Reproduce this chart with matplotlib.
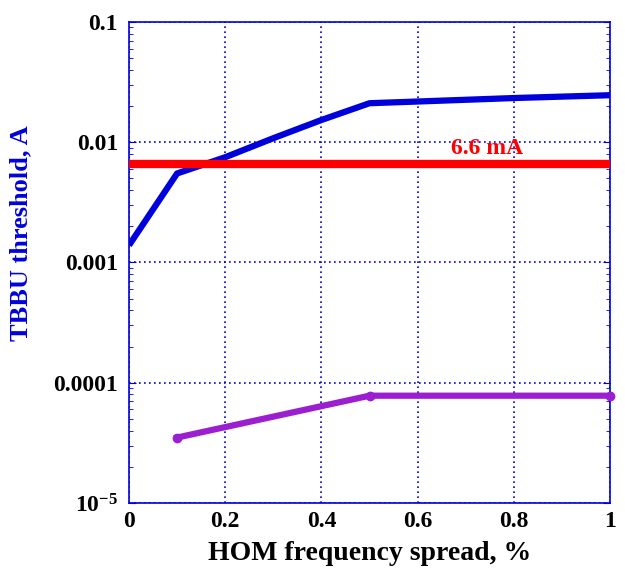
import matplotlib
matplotlib.use("Agg")
from matplotlib import pyplot as plt
from matplotlib.ticker import FixedLocator, LogLocator, NullFormatter

plt.rcParams['font.family'] = ['Liberation Serif', 'DejaVu Serif']
plt.rcParams['font.weight'] = 'bold'
plt.rcParams['mathtext.fontset'] = 'custom'
plt.rcParams['mathtext.rm'] = 'Liberation Serif:bold'
plt.rcParams['mathtext.it'] = 'Liberation Serif:bold'
plt.rcParams['mathtext.bf'] = 'Liberation Serif:bold'

# data
spread_blue = [0.0, 0.1, 0.2, 0.3, 0.4, 0.5, 0.6, 0.8, 1.0]
tbbu_blue = [0.00139, 0.0055, 0.0075, 0.0108, 0.0153, 0.0211, 0.0218, 0.0233, 0.0246]
spread_purple = [0.1, 0.5, 1.0]
tbbu_purple = [3.5e-5, 7.8e-5, 7.8e-5]
design_current = 0.0066
design_label = "6.6 mA"

yticks = [1e-5, 1e-4, 1e-3, 1e-2, 1e-1]
ytick_labels = [r"$10^{-5}$", "0.0001", "0.001", "0.01", "0.1"]
xticks = [0, 0.2, 0.4, 0.6, 0.8, 1]
xtick_labels = ["0", "0.2", "0.4", "0.6", "0.8", "1"]

fig = plt.figure(figsize=(6.25, 5.78), dpi=100)
ax = fig.add_axes([0.2064, 0.1298, 0.7696, 0.8322])

ax.plot(spread_blue, tbbu_blue, color="#0000dd", lw=4.5, solid_capstyle="butt", zorder=3)
ax.axhline(design_current, color="#ff0000", lw=6, zorder=4)
ax.plot(spread_purple, tbbu_purple, color="#9b1fd0", lw=4.5, marker="o", ms=6,
        clip_on=False, zorder=3)
ax.text(0.744, design_current * 1.1, design_label, color="#ff0000", fontsize=17,
        fontweight="bold", ha="center", va="bottom", zorder=5)

ax.set_yscale("log")
ax.set_xlim(0, 1)
ax.set_ylim(1e-5, 0.1)
ax.yaxis.set_major_locator(FixedLocator(yticks))
ax.set_yticklabels(ytick_labels)
ax.yaxis.set_minor_locator(LogLocator(base=10, subs=range(2, 10)))
ax.yaxis.set_minor_formatter(NullFormatter())
ax.set_xticks(xticks)
ax.set_xticklabels(xtick_labels)

ax.grid(True, which="major", color="#0000dd", linestyle=(0, (1, 2)), lw=1.2)
for s in ax.spines.values():
    s.set_color("#0000dd")
    s.set_linewidth(1.2)
ax.tick_params(which="both", direction="in", colors="#0000dd", labelcolor="black",
               labelsize=17, right=True, top=False)
ax.tick_params(which="major", length=5)
ax.tick_params(which="minor", length=3)
ax.tick_params(axis="y", pad=8)
ax.tick_params(axis="x", length=0, pad=6)

ax.set_xlabel("HOM frequency spread, %", fontsize=20, fontweight="bold", labelpad=6)
ax.set_ylabel("TBBU threshold, A", fontsize=19, fontweight="bold", color="#0000dd")
ax.yaxis.set_label_coords(-0.2, 0.56)

fig.savefig("out.png", dpi=100)
